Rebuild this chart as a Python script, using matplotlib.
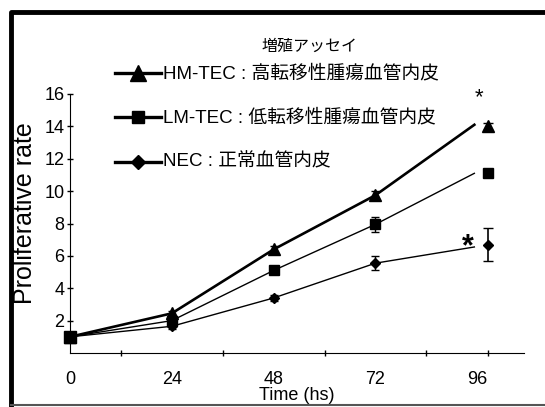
import matplotlib
matplotlib.use("Agg")
import matplotlib.pyplot as plt
from matplotlib.lines import Line2D

plt.rcParams['font.family'] = ['Liberation Sans', 'Noto Sans CJK JP', 'DejaVu Sans']

# data
time_pts = [0, 24, 48, 72]
line_end = 95.3          # the lines stop a bit short of the last markers
last_x = 98.4            # where the 96 h markers sit

hm = [1.0, 2.45, 6.4, 9.75]
lm = [1.0, 2.0, 5.1, 7.95]
nec = [1.0, 1.65, 3.4, 5.55]
hm_err = [0.1, 0.15, 0.2, 0.25]
lm_err = [0.1, 0.15, 0.2, 0.45]
nec_err = [0.1, 0.15, 0.2, 0.45]

hm_end, lm_end, nec_end = 14.1, 11.1, 6.55
hm_last, lm_last, nec_last = 14.0, 11.1, 6.7
hm_last_err, lm_last_err, nec_last_err = 0.2, 0.2, 1.0

xtick_labels = ['0', '24', '48', '72', '96']
xtick_pos = [0, 24, 48, 72, 96]
xminor = [0, 12, 24, 36, 48, 60, 72, 84, 98.6]
yticks = [2, 4, 6, 8, 10, 12, 14, 16]

title = '増殖アッセイ'
legend_names = ['HM-TEC : 高転移性腫瘍血管内皮',
                'LM-TEC : 低転移性腫瘍血管内皮',
                'NEC : 正常血管内皮']

W, H = 545, 407
fig = plt.figure(figsize=(W / 100, H / 100), dpi=100)


def px(x, y):
    return x / W, 1 - y / H


ax = fig.add_axes([70 / W, 1 - 353 / H, (524 - 70) / W, (353 - 94) / H])

series = [(hm, hm_err, hm_end, hm_last, hm_last_err, '^', 1.9, 8),
          (lm, lm_err, lm_end, lm_last, lm_last_err, 's', 1.0, 6.5),
          (nec, nec_err, nec_end, nec_last, nec_last_err, 'D', 1.0, 5.5)]

for vals, errs, end, last, last_err, mk, lw, ms in series:
    ax.plot(time_pts + [line_end], vals + [end], color='black', lw=lw,
            clip_on=False, zorder=3)
    ax.errorbar(time_pts, vals, yerr=errs, fmt=mk, color='black', ms=ms,
                capsize=3, elinewidth=1, clip_on=False, zorder=4)
    ax.errorbar([last_x], [last], yerr=[last_err], fmt=mk, color='black',
                ms=ms, capsize=3.5, elinewidth=1.2, clip_on=False, zorder=4)

# first points drawn as a big square like the picture
ax.plot([0], [1.0], 's', color='black', ms=9, clip_on=False, zorder=5)

ax.text(96.5, 15.8, '*', fontsize=16, ha='center', va='center')
ax.text(93.8, 6.55, '*', fontsize=22, fontweight='bold', ha='center', va='center')

ax.set_xlim(0, 107)
ax.set_ylim(0, 16)
ax.spines['top'].set_visible(False)
ax.spines['right'].set_visible(False)
ax.spines['left'].set_bounds(0, 16)
ax.set_xticks(xtick_pos)
ax.set_xticklabels(xtick_labels, fontsize=13)
ax.set_xticks(xminor, minor=True)
ax.tick_params(axis='x', which='major', length=0, pad=13)
ax.tick_params(axis='x', which='minor', length=4, direction='inout', width=1)
ax.set_yticks(yticks)
ax.set_yticklabels([str(v) for v in yticks], fontsize=13)
ax.tick_params(axis='y', length=4, direction='inout', width=1, pad=2)
ax.set_xlabel('Time (hs)', fontsize=13, labelpad=-1)
ax.set_ylabel('Proliferative rate', fontsize=18)
ax.yaxis.set_label_coords(-0.072, 0.54)

# hand-made legend
fig.text(*px(310, 46), title, fontsize=11.5, ha='center', va='center')
leg_y = [73, 117, 162]
leg_marks = [('^', 11), ('s', 9), ('D', 7)]
for name, yy, (mk, ms) in zip(legend_names, leg_y, leg_marks):
    x0, y0 = px(115, yy)
    x1, _ = px(161, yy)
    fig.add_artist(Line2D([x0, x1], [y0, y0], color='black', lw=2.4,
                          transform=fig.transFigure))
    fig.add_artist(Line2D([(x0 + x1) / 2], [y0], marker=mk, ms=ms,
                          color='black', transform=fig.transFigure))
    fig.text(*px(163, yy), name, fontsize=13.5, ha='left', va='center')

# frame round the whole picture
fig.add_artist(Line2D([px(11, 0)[0], px(11, 0)[0], 1], [px(0, 405)[1], px(0, 12)[1], px(0, 12)[1]],
                      color='black', lw=3.5, transform=fig.transFigure))
fig.add_artist(Line2D([px(11, 0)[0], 1], [px(0, 405)[1]] * 2, color='#555555', lw=1.5,
                      transform=fig.transFigure))

fig.savefig('out.png', dpi=100)
